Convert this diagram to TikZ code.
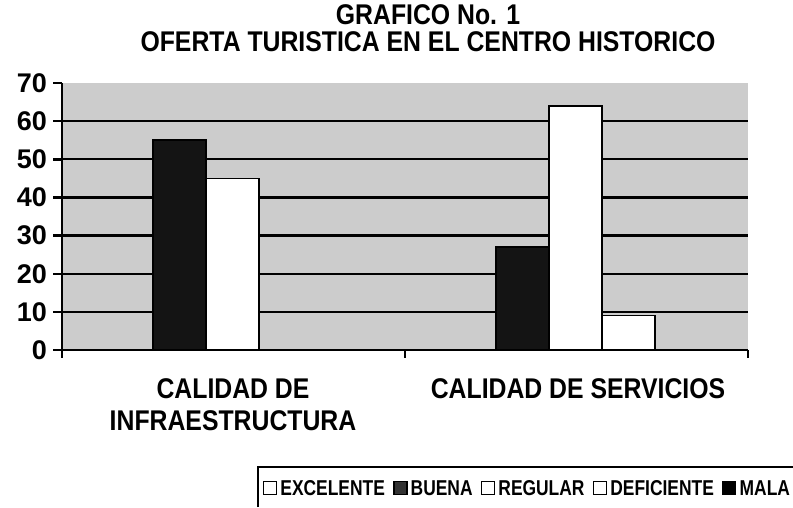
\documentclass[tikz,border=0pt]{standalone}
\usepackage{fontspec}
\setmainfont{Liberation Sans}
\newfontfamily\narrowsf{Liberation Sans}[FakeStretch=0.87]
\newfontfamily\legendsf{Liberation Sans}[FakeStretch=0.81]
\usetikzlibrary{positioning}

\begin{document}
\begin{tikzpicture}
% style
	[x=1pt, y=-1pt,
	lbl/.style={font=\narrowsf\bfseries\fontsize{28.5}{32}\selectfont, inner sep=0pt},
	ylbl/.style={font=\bfseries\fontsize{27}{28}\selectfont, inner sep=0pt, anchor=east},
	gridline/.style={line width=2.2pt},
	axis/.style={line width=2.4pt},
	bar/.style={draw=black, line width=1.6pt},
	legbox/.style={rectangle, draw=black, line width=1.4pt, minimum size=13pt, inner sep=0pt},
	legtext/.style={font=\legendsf\bfseries\fontsize{21.5}{24}\selectfont, inner sep=0pt}]

	\useasboundingbox (0,0) rectangle (793,507);

	% title
	\node [lbl] (title1) at (428,15) {GRAFICO No. 1};
	\node [lbl] (title2) at (428,42) {OFERTA TURISTICA EN EL CENTRO HISTORICO};

	% plot area, values upward
	\begin{scope}[shift={(0,350)}, y=3.814pt]
		\coordinate (origin) at (62,0);
		\coordinate (top) at (62,70);
		\coordinate (xend) at (748,0);
		\fill [black!20] (origin) rectangle (748,70);
		\foreach \v in {10,20,...,60}
			\draw [gridline] (62,\v) -- (748,\v);
		% bars
		\foreach \x/\v/\f in {153/55/black!92, 206/45/white, 496/27/black!92, 549/64/white, 602/9/white}
			\draw [bar, fill=\f] (\x,0) rectangle ++(53,\v);
		% axes
		\foreach \v in {0,10,...,70} {
			\draw [axis] (53,\v) -- (62,\v);
			\node [ylbl] (y\v) at (47,\v) {\v};
		}
		\draw [axis] (top) -- (origin) -- (xend);
		\foreach \x in {62,405,748}
			\draw [axis] (\x,0) -- (\x,-2.2);
	\end{scope}

	% categories
	\node [lbl, align=center] (cat1) at (233,405) {CALIDAD DE\\INFRAESTRUCTURA};
	\node [lbl] (cat2) at (578,389) {CALIDAD DE SERVICIOS};

	% legend
	\draw [line width=1.5pt] (258,507) |- (793,467);
	\node [legbox] (bexc) at (270,488) {};
	\node [legtext, right=3pt of bexc] (texc) {EXCELENTE};
	\node [legbox, fill=black!80, right=8pt of texc] (bbue) {};
	\node [legtext, right=3pt of bbue] (tbue) {BUENA};
	\node [legbox, right=8pt of tbue] (breg) {};
	\node [legtext, right=3pt of breg] (treg) {REGULAR};
	\node [legbox, right=8pt of treg] (bdef) {};
	\node [legtext, right=3pt of bdef] (tdef) {DEFICIENTE};
	\node [legbox, fill=black, right=8pt of tdef] (bmal) {};
	\node [legtext, right=3pt of bmal] (tmal) {MALA};
\end{tikzpicture}
\end{document}
